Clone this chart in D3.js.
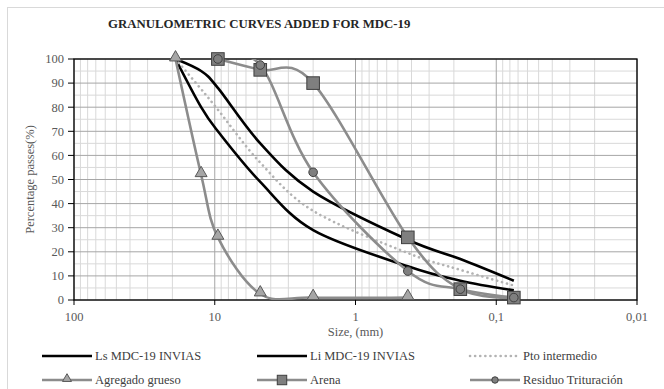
<!DOCTYPE html>
<html>
<head>
<meta charset="utf-8">
<title>Granulometric curves MDC-19</title>
<script src="https://d3js.org/d3.v7.min.js"></script>
<style>
  body { margin: 0; background: #fff; }
  svg text { font-family: "Liberation Serif", "DejaVu Serif", serif; }
  .tick-label { font-size: 12.5px; fill: #595959; }
  .legend-label { font-size: 12.5px; fill: #404040; }
</style>
</head>
<body>
<div id="chart"></div>
<script>
// sieve sizes (mm) and passing percentages
var sizesSpec = [19, 12.5, 9.5, 4.75, 2.0, 0.425, 0.18, 0.075];
var lsValues = [100, 95, 88, 65, 45, 25, 17, 8];
var liValues = [100, 80, 70, 49, 29, 14, 8, 4];
var midValues = [100, 87.5, 79, 57, 37, 19.5, 12.5, 6];

var sizesGrueso = [19, 12.5, 9.5, 4.75, 2.0, 0.425];
var gruesoValues = [100, 52, 26, 2.5, 1, 1];

var sizesFino = [9.5, 4.75, 2.0, 0.425, 0.18, 0.075];
var arenaValues = [100, 95.5, 90, 26, 4.5, 1];
var residuoValues = [100, 97.5, 53, 12, 4.5, 1];

var xTicks = [100, 10, 1, 0.1, 0.01];
var xTickLabels = ["100", "10", "1", "0,1", "0,01"];
var yTicks = [0, 10, 20, 30, 40, 50, 60, 70, 80, 90, 100];

var width = 664, height = 389;
var margin = { top: 59, right: 27, bottom: 89, left: 74 };

var svg = d3.select("#chart").append("svg")
    .attr("width", width)
    .attr("height", height)
    .attr("font-family", "'Liberation Serif', 'DejaVu Serif', serif");

svg.append("rect")
    .attr("width", width).attr("height", height)
    .attr("fill", "#fff");

// chart frame
svg.append("rect")
    .attr("x", 7.5).attr("y", 7.5)
    .attr("width", 700).attr("height", 400)
    .attr("fill", "none")
    .attr("stroke", "#d9d9d9");

var x = d3.scaleLog()
    .domain([100, 0.01])
    .range([margin.left, width - margin.right]);
var y = d3.scaleLinear()
    .domain([0, 100])
    .range([height - margin.bottom, margin.top]);

// minor grid
var minorX = [];
[0.01, 0.1, 1, 10].forEach(function(d) {
  for (var k = 2; k <= 9; k++) minorX.push(d * k);
});
var minorY = d3.range(5, 100, 10);

var grid = svg.append("g");
grid.selectAll(".vminor").data(minorX).enter().append("line")
    .attr("x1", d => x(d)).attr("x2", d => x(d))
    .attr("y1", y(0)).attr("y2", y(100))
    .attr("stroke", "#d9d9d9").attr("stroke-width", 1);
grid.selectAll(".hminor").data(minorY).enter().append("line")
    .attr("x1", x(100)).attr("x2", x(0.01))
    .attr("y1", d => y(d)).attr("y2", d => y(d))
    .attr("stroke", "#d9d9d9").attr("stroke-width", 1);
grid.selectAll(".vmajor").data(xTicks).enter().append("line")
    .attr("x1", d => x(d)).attr("x2", d => x(d))
    .attr("y1", y(0)).attr("y2", y(100))
    .attr("stroke", "#a6a6a6").attr("stroke-width", 1);
grid.selectAll(".hmajor").data(yTicks).enter().append("line")
    .attr("x1", x(100)).attr("x2", x(0.01))
    .attr("y1", d => y(d)).attr("y2", d => y(d))
    .attr("stroke", "#a6a6a6").attr("stroke-width", 1);

// plot border
svg.append("rect")
    .attr("x", x(100)).attr("y", y(100))
    .attr("width", x(0.01) - x(100))
    .attr("height", y(0) - y(100))
    .attr("fill", "none")
    .attr("stroke", "#000")
    .attr("stroke-width", 1.3);

// ticks
svg.selectAll(".ytick").data(yTicks).enter().append("line")
    .attr("x1", x(100) - 6).attr("x2", x(100))
    .attr("y1", d => y(d)).attr("y2", d => y(d))
    .attr("stroke", "#000");
svg.selectAll(".xtick").data(xTicks).enter().append("line")
    .attr("x1", d => x(d)).attr("x2", d => x(d))
    .attr("y1", y(0)).attr("y2", y(0) + 5)
    .attr("stroke", "#000");

svg.selectAll(".ylab").data(yTicks).enter().append("text")
    .attr("class", "tick-label")
    .attr("x", x(100) - 10)
    .attr("y", d => y(d))
    .attr("dy", "0.35em")
    .attr("text-anchor", "end")
    .text(d => d);
svg.selectAll(".xlab").data(xTicks).enter().append("text")
    .attr("class", "tick-label")
    .attr("x", d => x(d))
    .attr("y", y(0) + 21)
    .attr("text-anchor", "middle")
    .text((d, i) => xTickLabels[i]);

// axis titles
svg.append("text")
    .attr("class", "tick-label")
    .attr("x", (x(100) + x(0.01)) / 2)
    .attr("y", 336)
    .attr("text-anchor", "middle")
    .text("Size, (mm)");
svg.append("text")
    .attr("class", "tick-label")
    .attr("transform", "translate(34," + ((y(0) + y(100)) / 2) + ") rotate(-90)")
    .attr("text-anchor", "middle")
    .text("Percentage passes(%)");

svg.append("text")
    .attr("x", 108)
    .attr("y", 28)
    .style("font-size", "12.8px")
    .style("font-weight", "bold")
    .attr("fill", "#262626")
    .text("GRANULOMETRIC CURVES ADDED FOR MDC-19");

// curves, clipped to the plot area
svg.append("clipPath").attr("id", "plot-clip")
  .append("rect")
    .attr("x", x(100)).attr("y", y(100))
    .attr("width", x(0.01) - x(100))
    .attr("height", y(0) - y(100));

var line = d3.line()
    .x(d => x(d[0]))
    .y(d => y(d[1]))
    .curve(d3.curveCardinal.tension(0));

function pairs(xs, ys) { return xs.map((s, i) => [s, ys[i]]); }

var series = [
  { name: "Ls MDC-19 INVIAS", pts: pairs(sizesSpec, lsValues), color: "#000", dash: null, marker: null },
  { name: "Li MDC-19 INVIAS", pts: pairs(sizesSpec, liValues), color: "#000", dash: null, marker: null },
  { name: "Pto intermedio", pts: pairs(sizesSpec, midValues), color: "#b3b3b3", dash: "0.1 5", marker: null },
  { name: "Agregado grueso", pts: pairs(sizesGrueso, gruesoValues), color: "#8c8c8c", dash: null, marker: "triangle" },
  { name: "Arena", pts: pairs(sizesFino, arenaValues), color: "#8c8c8c", dash: null, marker: "square" },
  { name: "Residuo Trituración", pts: pairs(sizesFino, residuoValues), color: "#8c8c8c", dash: null, marker: "circle" }
];

function drawMarker(g, type, cx, cy, s) {
  if (type === "triangle") {
    g.append("path")
      .attr("d", d3.symbol().type(d3.symbolTriangle).size(62 * s * s)())
      .attr("transform", "translate(" + cx + "," + (cy - 1.5 * s) + ")")
      .attr("fill", "#a6a6a6").attr("stroke", "#595959").attr("stroke-width", 1);
  } else if (type === "square") {
    var h = 6.3 * s;
    g.append("rect")
      .attr("x", cx - h).attr("y", cy - h)
      .attr("width", 2 * h).attr("height", 2 * h)
      .attr("fill", "#7f7f7f").attr("stroke", "#3f3f3f").attr("stroke-width", 1);
  } else if (type === "circle") {
    g.append("circle")
      .attr("cx", cx).attr("cy", cy).attr("r", 4.3 * s)
      .attr("fill", "#7f7f7f").attr("stroke", "#3f3f3f").attr("stroke-width", 1);
  }
}

var curves = svg.append("g").attr("clip-path", "url(#plot-clip)");
series.forEach(function(s) {
  curves.append("path")
    .datum(s.pts)
    .attr("d", line)
    .attr("fill", "none")
    .attr("stroke", s.color)
    .attr("stroke-width", 2.6)
    .attr("stroke-linecap", s.dash ? "round" : "butt")
    .attr("stroke-dasharray", s.dash);
});
var markers = svg.append("g");
series.forEach(function(s) {
  if (!s.marker) return;
  var g = markers.append("g");
  s.pts.forEach(function(p) { drawMarker(g, s.marker, x(p[0]), y(p[1]), 1); });
});

// legend
var legendCols = [42, 257, 470];
var legendRows = [356, 380];
var legend = svg.append("g");
series.forEach(function(s, i) {
  var lx = legendCols[i % 3], ly = legendRows[Math.floor(i / 3)];
  legend.append("line")
    .attr("x1", lx).attr("x2", lx + 50)
    .attr("y1", ly).attr("y2", ly)
    .attr("stroke", s.color)
    .attr("stroke-width", 2.6)
    .attr("stroke-linecap", s.dash ? "round" : "butt")
    .attr("stroke-dasharray", s.dash);
  if (s.marker) drawMarker(legend, s.marker, lx + 25, ly, 0.75);
  legend.append("text")
    .attr("class", "legend-label")
    .attr("x", lx + 53)
    .attr("y", ly)
    .attr("dy", "0.35em")
    .text(s.name);
});
</script>
</body>
</html>
